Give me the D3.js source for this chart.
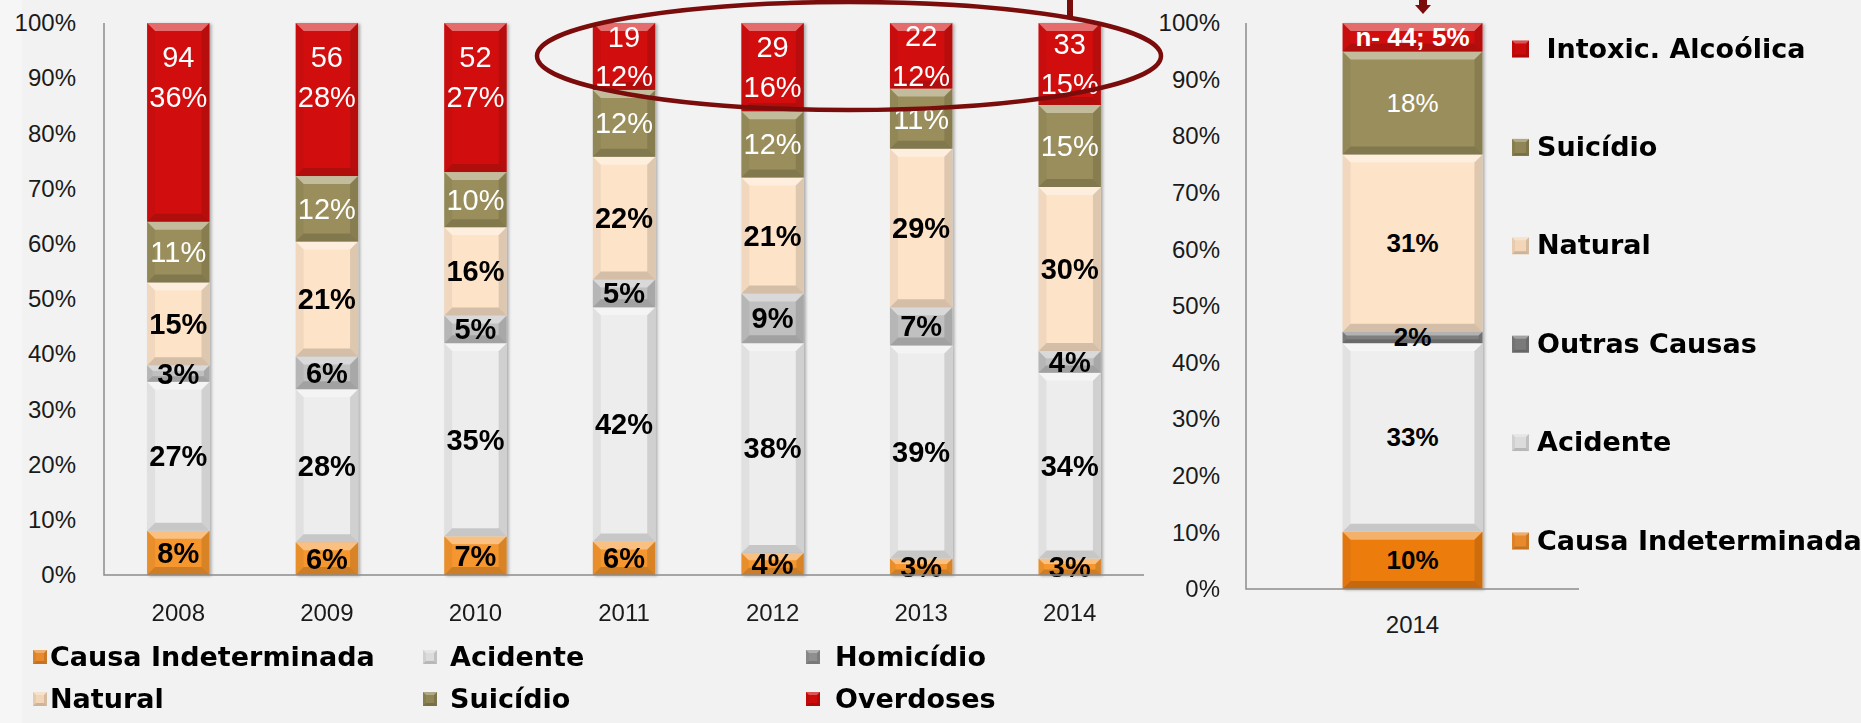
<!DOCTYPE html>
<html>
<head>
<meta charset="utf-8">
<style>
body { margin:0; background:#f2f2f2; }
svg { display:block; }
.axis text { font-family:"Liberation Sans", Arial, sans-serif; font-size:24px; fill:#1a1a1a; }
.lbl { font-family:"Liberation Sans", Arial, sans-serif; text-anchor:middle; dominant-baseline:central; }
.leg { font-family:"DejaVu Sans", sans-serif; font-weight:bold; font-size:27px; fill:#000; dominant-baseline:central; white-space:pre; }
</style>
<script src="https://cdn.jsdelivr.net/npm/d3@7"></script>
</head>
<body>
<script>
// left chart: % of deaths by cause, 2008-2014
var years = ["2008","2009","2010","2011","2012","2013","2014"];
var causes = ["Causa Indeterminada","Acidente","Homicídio","Natural","Suicídio","Overdoses"];
var causaIndet = [8,6,7,6,4,3,3];
var acidente   = [27,28,35,42,38,39,34];
var homicidio  = [3,6,5,5,9,7,4];
var natural    = [15,21,16,22,21,29,30];
var suicidio   = [11,12,10,12,12,11,15];
var overdoses  = [36,28,27,12,16,12,15];
var overdoseN  = [94,56,52,19,29,22,33];

// right chart: 2014 alcohol view
var causes2014 = ["Causa Indeterminada","Acidente","Outras Causas","Natural","Suicídio","Intoxic. Alcoólica"];
var values2014 = [10,33,2,31,18,5];
var alcoholN = 44;

var colL = {"Causa Indeterminada":"#f5962e","Acidente":"#ededed","Homicídio":"#c0c0c0","Natural":"#fde3c8","Suicídio":"#9a8f5c","Overdoses":"#d20a0a"};
var colR = {"Causa Indeterminada":"#ec7d0b","Acidente":"#eeeeee","Outras Causas":"#7f7f7f","Natural":"#fde3c8","Suicídio":"#9a8f5c","Intoxic. Alcoólica":"#d20a0a"};
var legCol = {"Causa Indeterminada":"#e88a2c","Acidente":"#dcdcdc","Homicídio":"#8f8f8f","Outras Causas":"#7a7a7a","Natural":"#f3d6b8","Suicídio":"#8f8555","Overdoses":"#cc0a0a","Intoxic. Alcoólica":"#cc0a0a"};
var whiteText = {"Suicídio":1,"Overdoses":1,"Intoxic. Alcoólica":1};

var svg = d3.select("body").append("svg").attr("width",1861).attr("height",723);
svg.append("rect").attr("width",22).attr("height",723).attr("fill","#f6f6f6");

var defs = svg.append("defs");
defs.append("filter").attr("id","shadow").attr("x","-20%").attr("width","140%")
  .append("feDropShadow").attr("dx",2).attr("dy",1).attr("stdDeviation",1.5)
  .attr("flood-color","#000").attr("flood-opacity",0.3);

var xL = d3.scaleBand().domain(years).range([104,1144]).paddingInner(0.58).paddingOuter(0.29);
var yL = d3.scaleLinear().domain([0,1]).range([575,23]);
var xR = d3.scaleBand().domain(["2014"]).range([1246,1579]).paddingInner(0.58).paddingOuter(0.29);
var yR = d3.scaleLinear().domain([0,1]).range([589,23]);

//bevel look of the excel bars
function bevel(g, x, y, w, h, fill, bmax, hi) {
	g.append("rect").attr("x",x).attr("y",y).attr("width",w).attr("height",h).attr("fill",fill);
	var b = Math.min(bmax || 8, h/3);
	var parts = [
		[[x,y],[x+w,y],[x+w-b,y+b],[x+b,y+b],"#fff",hi == null ? 0.4 : hi],
		[[x,y+h],[x+w,y+h],[x+w-b,y+h-b],[x+b,y+h-b],"#000",0.16],
		[[x,y],[x+b,y+b],[x+b,y+h-b],[x,y+h],"#000",0.05],
		[[x+w,y],[x+w-b,y+b],[x+w-b,y+h-b],[x+w,y+h],"#000",0.12]
	];
	parts.forEach(function(p) {
		g.append("polygon").attr("points",p.slice(0,4).map(function(q){return q.join(",");}).join(" "))
			.attr("fill",p[4]).attr("opacity",p[5]);
	});
}

function drawStack(series, x, y, colors, labelFn, fs) {
	var bars = svg.append("g").attr("filter","url(#shadow)");
	series.forEach(function(layer) {
		layer.forEach(function(d) {
			var bx = x(d.data.cat), by = y(d[1]), h = y(d[0]) - y(d[1]);
			bevel(bars.append("g"), bx, by, x.bandwidth(), h, colors[layer.key]);
		});
	});
	var labels = svg.append("g");
	series.forEach(function(layer) {
		layer.forEach(function(d, i) {
			var cx = x(d.data.cat) + x.bandwidth()/2, cy = (y(d[0]) + y(d[1]))/2;
			if (layer.key == "Overdoses") cy = Math.min(cy, y(d[1]) + 54);
			var lines = labelFn(layer.key, d.data[layer.key], i);
			var t = labels.append("text").attr("class","lbl").attr("x",cx).attr("y",cy)
				.attr("font-size",fs).attr("fill",whiteText[layer.key] ? "#fff" : "#000")
				.attr("font-weight",(whiteText[layer.key] && layer.key != "Intoxic. Alcoólica") ? "normal" : "bold");
			lines.forEach(function(s, j) {
				t.append("tspan").attr("x",cx).attr("dy", j == 0 ? (-(lines.length-1)*0.68)+"em" : "1.36em").text(s);
			});
		});
	});
}

// left stacked bars
var rowsL = years.map(function(yr, i) {
	return {cat:yr, "Causa Indeterminada":causaIndet[i], "Acidente":acidente[i], "Homicídio":homicidio[i],
		"Natural":natural[i], "Suicídio":suicidio[i], "Overdoses":overdoses[i]};
});
var stackL = d3.stack().keys(causes).offset(d3.stackOffsetExpand)(rowsL);
drawStack(stackL, xL, yL, colL, function(k, v, i) {
	return k == "Overdoses" ? [String(overdoseN[i]), v + "%"] : [v + "%"];
}, 29);

// right stacked bar
var rowR = {cat:"2014"};
causes2014.forEach(function(c, i) { rowR[c] = values2014[i]; });
var stackR = d3.stack().keys(causes2014).offset(d3.stackOffsetExpand)([rowR]);
drawStack(stackR, xR, yR, colR, function(k, v) {
	return k == "Intoxic. Alcoólica" ? ["n- " + alcoholN + "; " + v + "%"] : [v + "%"];
}, 26);

// axes
var fmt = d3.format(".0%");
svg.append("g").attr("class","axis").attr("transform","translate(104,0)")
	.call(d3.axisLeft(yL).ticks(10).tickFormat(fmt).tickSize(0).tickPadding(28))
	.call(function(g){ g.select(".domain").remove(); });
svg.append("g").attr("class","axis").attr("transform","translate(0,575)")
	.call(d3.axisBottom(xL).tickSize(0).tickPadding(29))
	.call(function(g){ g.select(".domain").remove(); });
svg.append("g").attr("class","axis").attr("transform","translate(1246,0)")
	.call(d3.axisLeft(yR).ticks(10).tickFormat(fmt).tickSize(0).tickPadding(26))
	.call(function(g){ g.select(".domain").remove(); });
svg.append("g").attr("class","axis").attr("transform","translate(0,589)")
	.call(d3.axisBottom(xR).tickSize(0).tickPadding(27))
	.call(function(g){ g.select(".domain").remove(); });
svg.selectAll(".axis text").attr("font-family",null).attr("font-size",null);

svg.append("path").attr("d","M104,23V575H1144").attr("fill","none").attr("stroke","#8c8c8c").attr("stroke-width",1.5);
svg.append("path").attr("d","M1246,23V589H1579").attr("fill","none").attr("stroke","#8c8c8c").attr("stroke-width",1.5);

// legends
function legend(items, pos, sw) {
	items.forEach(function(c, i) {
		var p = pos[i];
		var g = svg.append("g");
		bevel(g, p[0], p[1]-sw/2+1, sw, sw, legCol[c], 3, 0.3);
		svg.append("text").attr("class","leg").attr("x",p[2]).attr("y",p[1]).text(c == "Intoxic. Alcoólica" ? " " + c : c);
	});
}
legend(["Causa Indeterminada","Acidente","Homicídio","Natural","Suicídio","Overdoses"],
	[[33,656,50],[423,656,450],[806,656,835],[33,698,50],[423,698,450],[806,698,835]], 14);
var legR = causes2014.slice().reverse();
legend(legR, legR.map(function(c, i){ return [1512, 48 + i*98.4, 1537]; }), 17);

// highlight ellipse and connectors
var dark = "#7b0c0c";
svg.append("ellipse").attr("cx",849).attr("cy",56).attr("rx",312).attr("ry",54)
	.attr("fill","none").attr("stroke",dark).attr("stroke-width",4.5);
svg.append("line").attr("x1",1070).attr("x2",1070).attr("y1",0).attr("y2",18).attr("stroke",dark).attr("stroke-width",6);
svg.append("path").attr("d","M1419,0H1427V5H1431L1423,14L1415,5H1419Z").attr("fill",dark);
</script>
</body>
</html>
